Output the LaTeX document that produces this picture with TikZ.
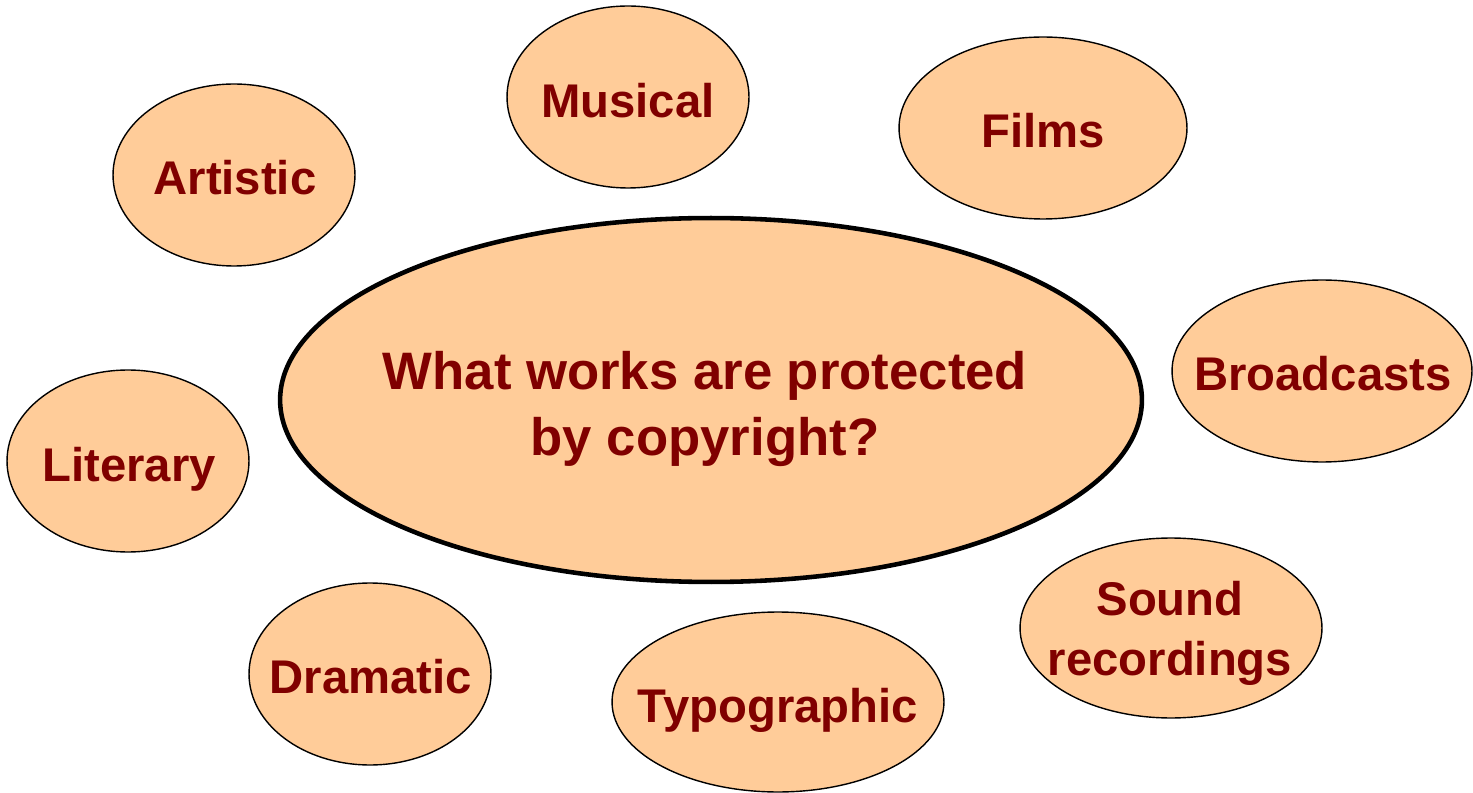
\documentclass[tikz,border=0pt]{standalone}
\usepackage{fontspec}
\setmainfont{Liberation Sans}
\usetikzlibrary{shapes.geometric}

\definecolor{peach}{HTML}{FFCC99}
\definecolor{darkred}{HTML}{800000}

\tikzset{
    work/.style={draw, ellipse, fill=peach, line width=0.8pt, inner sep=0pt},
    question/.style={draw, ellipse, fill=peach, line width=2.6pt, inner sep=0pt},
    worktext/.style={text=darkred, font=\fontsize{26.9}{34}\selectfont\bfseries,
        align=center, inner sep=0pt, text height=0.716em, text depth=0pt}
}

\begin{document}
\begin{tikzpicture}[x=0.02cm, y=-0.02cm]
            \useasboundingbox (0, 0) rectangle (1473, 793);

            \node[question, minimum width=17.24cm, minimum height=7.28cm] (q) at (711, 400) {};
            \node[worktext, font=\fontsize{30}{37.4}\selectfont\bfseries] (qt) at (705, 449) {What works are protected\\by copyright?};

            \node[work, minimum width=4.84cm, minimum height=3.64cm] (musical) at (628, 97) {};
            \node[worktext] (musicalt) at (628, 111) {Musical};

            \node[work, minimum width=4.84cm, minimum height=3.64cm] (artistic) at (234, 175) {};
            \node[worktext] (artistict) at (235, 188) {Artistic};

            \node[work, minimum width=5.76cm, minimum height=3.64cm] (films) at (1043, 128) {};
            \node[worktext] (filmst) at (1043, 141) {Films};

            \node[work, minimum width=6.0cm, minimum height=3.64cm] (broadcasts) at (1322, 371) {};
            \node[worktext] (broadcastst) at (1323, 384) {Broadcasts};

            \node[work, minimum width=4.84cm, minimum height=3.64cm] (literary) at (128, 461) {};
            \node[worktext] (literaryt) at (129, 475) {Literary};

            \node[work, minimum width=4.84cm, minimum height=3.64cm] (dramatic) at (370, 674) {};
            \node[worktext] (dramatict) at (371, 687) {Dramatic};

            \node[work, minimum width=6.64cm, minimum height=3.60cm] (typographic) at (778, 702) {};
            \node[worktext] (typographict) at (778, 716) {Typographic};

            \node[work, minimum width=6.04cm, minimum height=3.60cm] (sound) at (1171, 628) {};
            \node[worktext] (soundt) at (1170, 669) {Sound\\recordings};
        \end{tikzpicture}
\end{document}
